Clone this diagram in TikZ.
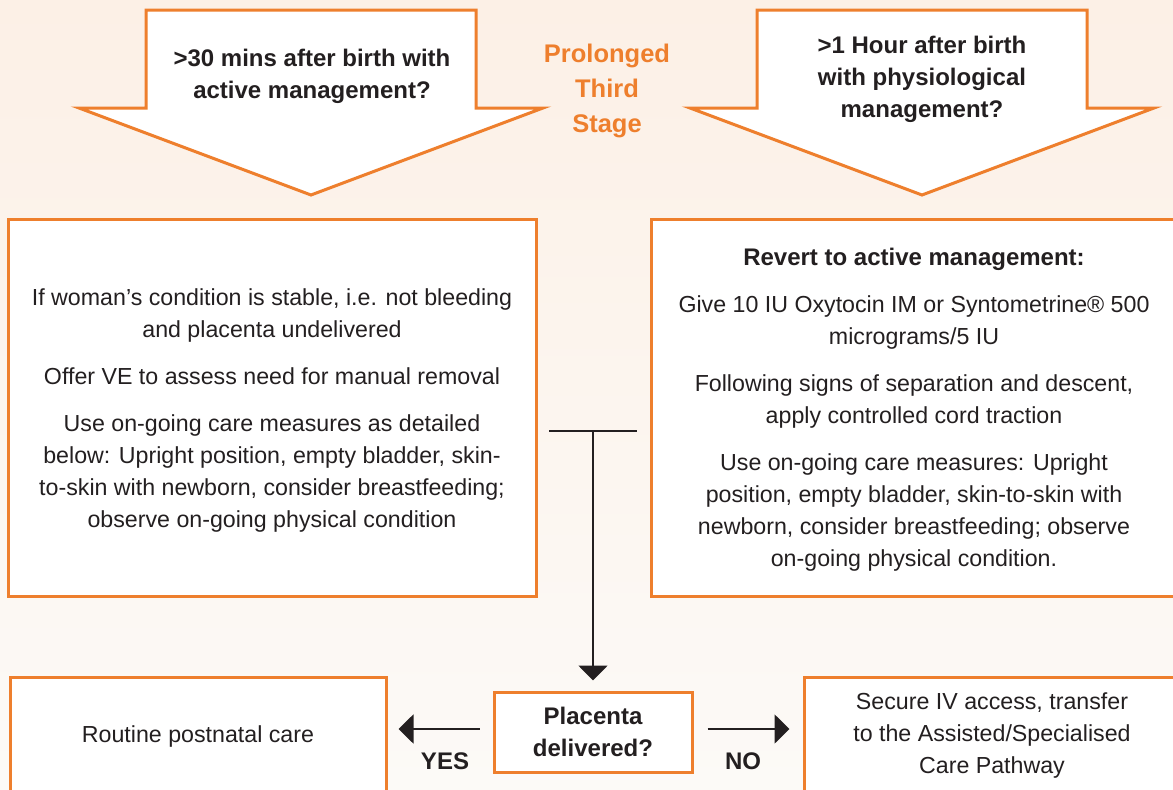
\documentclass[tikz,border=0pt]{standalone}
\usepackage{fontspec}
\setmainfont{Liberation Sans}
\usetikzlibrary{arrows.meta}
\definecolor{nhsorange}{RGB}{238,127,45}
\definecolor{ink}{RGB}{35,31,32}
\definecolor{bgtop}{RGB}{252,240,230}
\definecolor{bgbot}{RGB}{252,250,247}
\begin{document}
\begin{tikzpicture}[x=1pt,y=1pt,
  outline/.style={draw=nhsorange, line width=3pt, fill=white},
  bodytext/.style={font=\fontsize{23.2}{32}\selectfont, text=ink, align=center},
  boldtext/.style={font=\fontsize{24}{32}\selectfont\bfseries, text=ink, align=center},
  infobox/.style={outline, bodytext, inner sep=0pt},
  conn/.style={draw=ink, line width=2pt},
  tiphead/.style={-{Triangle[length=15pt,width=29pt]}},
]
% page and soft peach background
\useasboundingbox (0,0) rectangle (1173,-790);
\shade[top color=bgtop, bottom color=bgbot] (0,0) rectangle (1173,-790);

% two block arrows at the top
\draw[outline] (146,-10) -- (476,-10) -- (476,-108) -- (543,-108) -- (311,-195)
  -- (79,-108) -- (146,-108) -- cycle;
\draw[outline] (757,-10) -- (1087,-10) -- (1087,-108) -- (1154,-108) -- (922,-195)
  -- (690,-108) -- (757,-108) -- cycle;
\node[boldtext] (active) at (312,-76) {>30 mins after birth with\\active management?};
\node[boldtext] (physio) at (922,-79.5) {>1 Hour after birth\\with physiological\\management?};
\node[font=\fontsize{25.5}{35}\selectfont\bfseries, text=nhsorange, align=center]
  (title) at (607,-90.5) {Prolonged\\Third\\Stage};

% the two action boxes
\node[infobox, minimum width=528pt, minimum height=377pt] (stable) at (272,-407.5) {};
\node[bodytext] (stabletext) at (272,-410)
  {If woman’s condition is stable, i.e. not bleeding\\and placenta undelivered\\[15pt]
   Offer VE to assess need for manual removal\\[15pt]
   Use on-going care measures as detailed\\below: Upright position, empty bladder, skin-\\
   to-skin with newborn, consider breastfeeding;\\observe on-going physical condition};
\node[infobox, minimum width=526pt, minimum height=377pt] (revert) at (914,-407.5) {};
\node[bodytext] (reverttext) at (914,-410)
  {{\fontsize{24}{32}\selectfont\bfseries Revert to active management:}\\[15pt]
   Give 10 IU Oxytocin IM or Syntometrine® 500\\micrograms/5 IU\\[15pt]
   Following signs of separation and descent,\\apply controlled cord traction\\[15pt]
   Use on-going care measures: Upright\\position, empty bladder, skin-to-skin with\\
   newborn, consider breastfeeding; observe\\on-going physical condition.};

% decision and outcomes
\node[outline, boldtext, minimum width=198pt, minimum height=80pt, inner sep=0pt]
  (plac) at (593,-732) {Placenta\\delivered?};
\node[infobox, minimum width=376pt, minimum height=118pt] (routine) at (198,-736)
  {Routine postnatal care};
\node[infobox, minimum width=376pt, minimum height=118pt] (secure) at (992,-736)
  {Secure IV access, transfer\\to the Assisted/Specialised\\Care Pathway};

% joining bar and connectors
\coordinate (barL) at (549,-431);
\coordinate (barR) at (637,-431);
\coordinate (barM) at (593,-431);
\draw[conn] (barL) -- (barR);
\draw[conn, tiphead, shorten >=10pt] (barM) -- (plac.north);
\draw[conn, tiphead, shorten <=13pt, shorten >=11pt]
  ([yshift=3pt]plac.west) -- ([yshift=3pt]plac.west -| routine.east);
\draw[conn, tiphead, shorten <=14pt, shorten >=13pt]
  ([yshift=3pt]plac.east) -- ([yshift=3pt]plac.east -| secure.west);
\node[boldtext] (yes) at (445,-761) {YES};
\node[boldtext] (no) at (743,-761) {NO};
\end{tikzpicture}
\end{document}
